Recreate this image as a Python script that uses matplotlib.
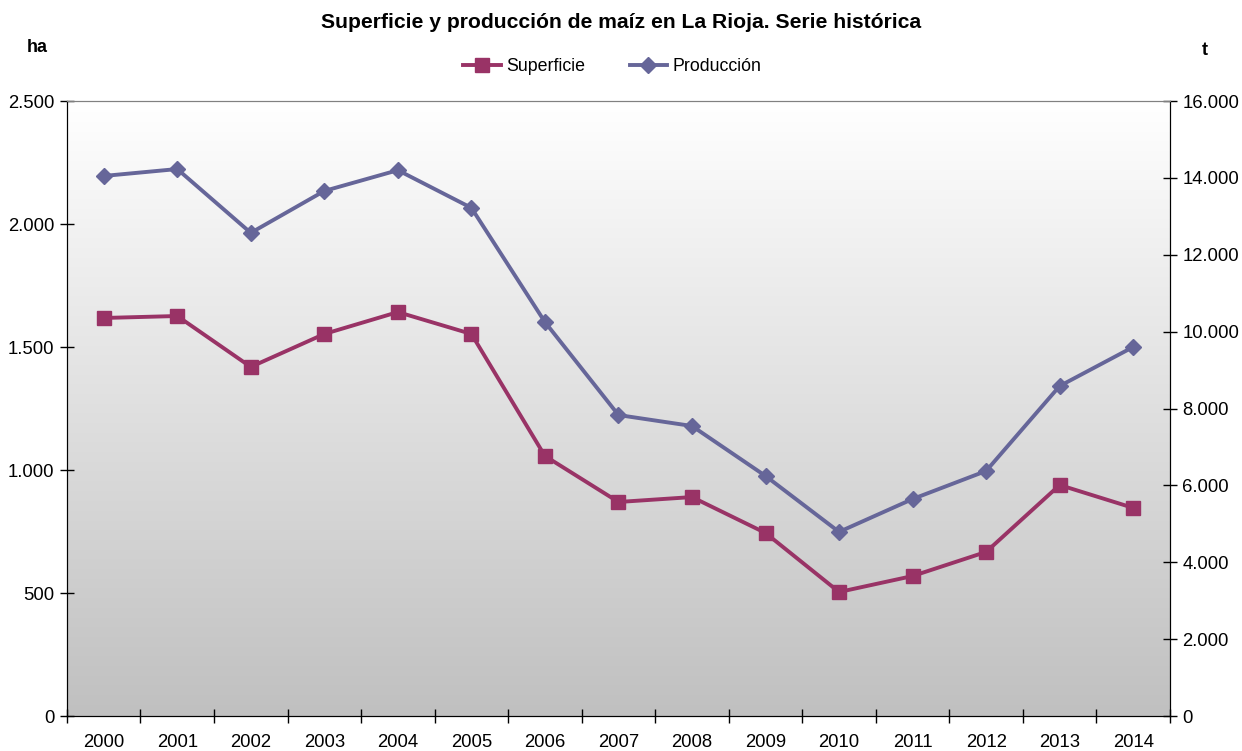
import numpy as np
import matplotlib
matplotlib.use('Agg')
import matplotlib.pyplot as plt
from matplotlib.ticker import FuncFormatter, FixedLocator

# Datos
anios = ['2000', '2001', '2002', '2003', '2004', '2005', '2006', '2007',
         '2008', '2009', '2010', '2011', '2012', '2013', '2014']
superficie = [1618, 1626, 1419, 1553, 1642, 1553, 1057, 870,
              890, 744, 504, 569, 667, 939, 846]
produccion = [14050, 14230, 12570, 13660, 14200, 13220, 10250, 7830,
              7545, 6245, 4790, 5645, 6375, 8585, 9600]

plt.rcParams['font.family'] = ['Liberation Sans', 'DejaVu Sans']

fig = plt.figure(figsize=(12.42, 7.51), dpi=100)
ax = fig.add_axes([0.0539, 0.0466, 0.8881, 0.8189])
ax2 = ax.twinx()

x = np.arange(len(anios))

# fondo degradado
grad = np.linspace(1, 0, 256).reshape(-1, 1)
ax.imshow(grad, extent=[0, 1, 0, 1], transform=ax.transAxes, aspect='auto',
          cmap=matplotlib.colors.LinearSegmentedColormap.from_list('g', ['#c0c0c0', '#ffffff']),
          zorder=0)

l1, = ax2.plot(x, [s * 16000 / 2500 for s in superficie], color='#993366', lw=2.8,
               marker='s', ms=10, label='Superficie')
l2, = ax2.plot(x, produccion, color='#666699', lw=2.8, marker='D', ms=8, label='Producción')

ax.set_xlim(-0.5, len(anios) - 0.5)
ax.set_ylim(0, 2500)
ax2.set_ylim(0, 16000)

fmt = FuncFormatter(lambda v, p: f'{int(v):,}'.replace(',', '.'))
ax.set_yticks(np.arange(0, 2501, 500))
ax.yaxis.set_major_formatter(fmt)
ax2.set_yticks(np.arange(0, 16001, 2000))
ax2.yaxis.set_major_formatter(fmt)

ax.set_xticks(x)
ax.set_xticklabels(anios)
ax.xaxis.set_minor_locator(FixedLocator(np.arange(-0.5, len(anios), 1)))
ax.tick_params(axis='x', which='major', length=0, pad=13, labelsize=13.3)
ax.tick_params(axis='x', which='minor', length=10, direction='inout', width=1)
ax.tick_params(axis='y', length=10, direction='inout', width=1, labelsize=13.3, pad=4)
ax2.tick_params(axis='y', length=10, direction='inout', width=1, labelsize=13.3, pad=4)

for a in (ax, ax2):
    a.spines['top'].set_color('#808080')
    a.spines['left'].set_color('black')
    a.spines['right'].set_color('black')
    a.spines['bottom'].set_color('black')
ax2.patch.set_visible(False)

fig.text(0.5, 0.970, 'Superficie y producción de maíz en La Rioja. Serie histórica',
         ha='center', va='center', fontsize=15.2, fontweight='bold')
fig.text(0.030, 0.937, 'ha', ha='center', va='center', fontsize=13, fontweight='bold')
fig.text(0.970, 0.933, 't', ha='center', va='center', fontsize=13, fontweight='bold')

fig.legend(handles=[l1, l2], loc='center', bbox_to_anchor=(0.493, 0.911), ncol=2,
           frameon=False, fontsize=12.8, handlelength=2.1, columnspacing=2.5, handletextpad=0.3)

plt.savefig('out.png', dpi=100)
